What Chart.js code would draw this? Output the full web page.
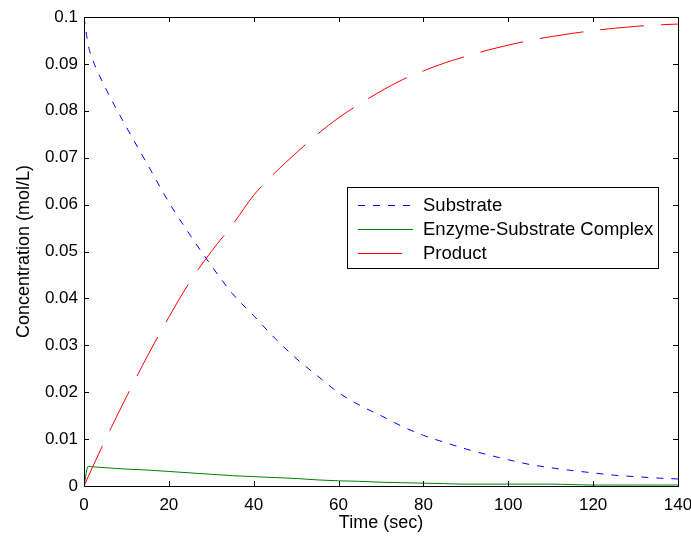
<!DOCTYPE html>
<html lang="en">
<head>
    <meta charset="UTF-8">
    <title>Enzyme Kinetics</title>
    <script src="https://cdn.jsdelivr.net/npm/chart.js"></script>
    <style>
        html, body {
            margin: 0;
            padding: 0;
            background: #ffffff;
        }
        .chart-container {
            width: 691px;
            height: 538px;
        }
    </style>
</head>
<body>
    <div class="chart-container">
        <canvas id="kineticsChart" width="691" height="538"></canvas>
    </div>

    <script>
        // time points (sec)
        const timeSec = [0, 1, 2, 5, 10, 15, 20, 25, 30, 35, 40, 45, 50, 55, 60, 65, 70,
            75, 80, 85, 90, 95, 100, 105, 110, 115, 120, 125, 130, 135, 140];

        // concentrations (mol/L)
        const substrate = [0.1, 0.094, 0.091, 0.085, 0.0765, 0.0685, 0.0605, 0.0535, 0.047, 0.041,
            0.0363, 0.0315, 0.0272, 0.0235, 0.0199, 0.0172, 0.015, 0.0127, 0.0108, 0.0093,
            0.0079, 0.0067, 0.0056, 0.0046, 0.0039, 0.0033, 0.0028, 0.0023, 0.002, 0.0017, 0.0015];
        const complex = [0, 0.0042, 0.0041, 0.0039, 0.0036, 0.0034, 0.0031, 0.0028, 0.0025, 0.0022,
            0.002, 0.0018, 0.0016, 0.0013, 0.0011, 0.001, 0.0008, 0.0007, 0.0006, 0.0005,
            0.0004, 0.0004, 0.0004, 0.0004, 0.0004, 0.0003, 0.0002, 0.0002, 0.0002, 0.0002, 0.0002];
        const product = [0, 0.002, 0.004, 0.0098, 0.019, 0.0278, 0.036, 0.0436, 0.05, 0.0557,
            0.062, 0.0668, 0.071, 0.075, 0.0785, 0.0815, 0.0842, 0.0866, 0.0885, 0.0902,
            0.0916, 0.0929, 0.094, 0.095, 0.0958, 0.0965, 0.0971, 0.0976, 0.098, 0.0983, 0.0985];

        const xTicks = [0, 20, 40, 60, 80, 100, 120, 140];
        const yTicks = [0, 0.01, 0.02, 0.03, 0.04, 0.05, 0.06, 0.07, 0.08, 0.09, 0.1];

        const seriesNames = ['Substrate', 'Enzyme-Substrate Complex', 'Product'];
        const seriesColors = ['#0000ff', '#008000', '#ff0000'];
        const seriesDash = [[7, 8], [], [44, 17]];

        const FONT = '"Liberation Sans", Arial, sans-serif';

        function toPoints(values) {
            return timeSec.map((t, i) => ({ x: t, y: values[i] }));
        }

        // matlab style box, inward ticks and legend inside the axes
        const matlabBox = {
            id: 'matlabBox',
            afterDraw(chart) {
                const c = chart.ctx;
                const a = chart.chartArea;
                const xs = chart.scales.x;
                const ys = chart.scales.y;
                const tl = 5;
                c.save();
                c.strokeStyle = '#000';
                c.lineWidth = 1;
                c.beginPath();
                xTicks.forEach(v => {
                    const px = Math.round(xs.getPixelForValue(v)) + 0.5;
                    c.moveTo(px, a.bottom); c.lineTo(px, a.bottom - tl);
                    c.moveTo(px, a.top); c.lineTo(px, a.top + tl);
                });
                yTicks.forEach(v => {
                    const py = Math.round(ys.getPixelForValue(v)) + 0.5;
                    c.moveTo(a.left, py); c.lineTo(a.left + tl, py);
                    c.moveTo(a.right, py); c.lineTo(a.right - tl, py);
                });
                c.stroke();
                c.strokeRect(Math.round(a.left) + 0.5, Math.round(a.top) + 0.5,
                    Math.round(a.right - a.left), Math.round(a.bottom - a.top));

                // legend
                const lx = 347.5, ly = 187.5, lw = 311, lh = 81;
                c.fillStyle = '#fff';
                c.fillRect(lx, ly, lw, lh);
                c.strokeStyle = '#000';
                c.strokeRect(lx, ly, lw, lh);
                c.font = '18.5px ' + FONT;
                c.textBaseline = 'middle';
                seriesNames.forEach((name, i) => {
                    const rowY = Math.round(ly + 17 + i * 24.3);
                    const end = i === 2 ? 404 : 413;
                    const dash = seriesDash[i];
                    c.fillStyle = seriesColors[i];
                    if (dash.length) {
                        for (let x = 358; x < end; x += dash[0] + dash[1]) {
                            c.fillRect(x, rowY, Math.min(dash[0], end - x), 1);
                        }
                    } else {
                        c.fillRect(358, rowY, end - 358, 1);
                    }
                    c.fillStyle = '#000';
                    c.fillText(name, 423, rowY + 1);
                });
                c.restore();
            }
        };

        const ctx = document.getElementById('kineticsChart').getContext('2d');
        new Chart(ctx, {
            type: 'line',
            data: {
                datasets: [substrate, complex, product].map((vals, i) => ({
                    label: seriesNames[i],
                    data: toPoints(vals),
                    borderColor: seriesColors[i],
                    borderWidth: 1,
                    borderDash: seriesDash[i],
                    pointRadius: 0,
                    cubicInterpolationMode: 'monotone'
                }))
            },
            options: {
                responsive: false,
                animation: false,
                layout: { padding: { top: 17, right: 13, left: 13, bottom: 4 } },
                plugins: {
                    legend: { display: false },
                    tooltip: { enabled: false }
                },
                scales: {
                    x: {
                        type: 'linear',
                        min: 0,
                        max: 140,
                        afterBuildTicks: s => { s.ticks = xTicks.map(v => ({ value: v })); },
                        afterFit: s => { s.height = 48; s.paddingLeft = 0; s.paddingRight = 0; },
                        grid: { display: false, drawTicks: false },
                        border: { display: false },
                        ticks: {
                            color: '#000',
                            padding: 9,
                            maxRotation: 0,
                            font: { family: FONT, size: 17 }
                        },
                        title: {
                            display: true,
                            text: 'Time (sec)',
                            color: '#000',
                            padding: { top: 0, bottom: 0 },
                            font: { family: FONT, size: 18 }
                        }
                    },
                    y: {
                        type: 'linear',
                        min: 0,
                        max: 0.1,
                        afterBuildTicks: s => { s.ticks = yTicks.map(v => ({ value: v })); },
                        afterFit: s => { s.width = 71; s.paddingTop = 0; s.paddingBottom = 0; },
                        grid: { display: false, drawTicks: false },
                        border: { display: false },
                        ticks: {
                            color: '#000',
                            padding: 6,
                            font: { family: FONT, size: 17 },
                            callback: v => String(Math.round(v * 100) / 100)
                        },
                        title: {
                            display: true,
                            text: 'Concentration (mol/L)',
                            color: '#000',
                            padding: { top: 0, bottom: 0 },
                            font: { family: FONT, size: 18 }
                        }
                    }
                }
            },
            plugins: [matlabBox]
        });
    </script>
</body>
</html>
